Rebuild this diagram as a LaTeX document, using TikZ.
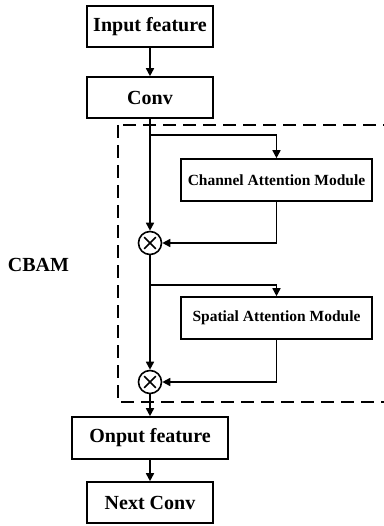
\documentclass[tikz,border=0pt]{standalone}
\usepackage{fontspec}
\setmainfont{Liberation Serif}
\usetikzlibrary{arrows.meta}
\begin{document}
\begin{tikzpicture}[x=1pt,y=-1pt,
  box/.style={draw, line width=1.6pt, inner sep=0pt, font=\bfseries\fontsize{20}{24}\selectfont},
  modbox/.style={draw, line width=1.6pt, inner sep=0pt, font=\bfseries\fontsize{15.5}{18}\selectfont},
  mult/.style={draw, circle, line width=1.6pt, minimum size=23pt, inner sep=0pt,
    path picture={\draw[line width=1.5pt] (path picture bounding box.center) ++(45:8.2pt) -- ++(225:16.4pt);
                  \draw[line width=1.5pt] (path picture bounding box.center) ++(135:8.2pt) -- ++(315:16.4pt);}},
  conn/.style={line width=1.6pt, -{Triangle[length=8pt,width=8pt]}},
  dbox/.style={draw, line width=1.5pt, dash pattern=on 13pt off 7pt}]
\useasboundingbox (0,0) rectangle (383,526);
\node[box, minimum width=126pt, minimum height=41pt] (in) at (150,26.5) {Input feature};
\node[box, minimum width=126pt, minimum height=41pt] (conv) at (150,97.5) {Conv};
\node[modbox, minimum width=191pt, minimum height=42pt] (cam) at (276.5,180) {Channel Attention Module};
\node[modbox, minimum width=191pt, minimum height=42pt] (sam) at (276.5,318) {Spatial Attention Module};
\node[mult] (m1) at (150,243) {};
\node[mult] (m2) at (150,382) {};
\node[box, minimum width=156pt, minimum height=42pt] (out) at (150,438) {Onput feature};
\node[box, minimum width=126pt, minimum height=41pt] (next) at (150,502.5) {Next Conv};
\node[font=\bfseries\fontsize{20}{24}\selectfont] (cbam) at (38.5,265) {CBAM};
\draw[dbox] (118,125) rectangle (420,402);
\coordinate (b1) at (150,135);
\coordinate (b2) at (150,285);
\draw[conn] (in) -- (conv);
\draw[conn] (conv) -- (m1);
\draw[conn] (b1) -| (cam);
\draw[conn] (cam) |- (m1);
\draw[conn] (m1) -- (m2);
\draw[conn] (b2) -| (sam);
\draw[conn] (sam) |- (m2);
\draw[conn] (m2) -- (out);
\draw[conn] (out) -- (next);
\end{tikzpicture}
\end{document}
